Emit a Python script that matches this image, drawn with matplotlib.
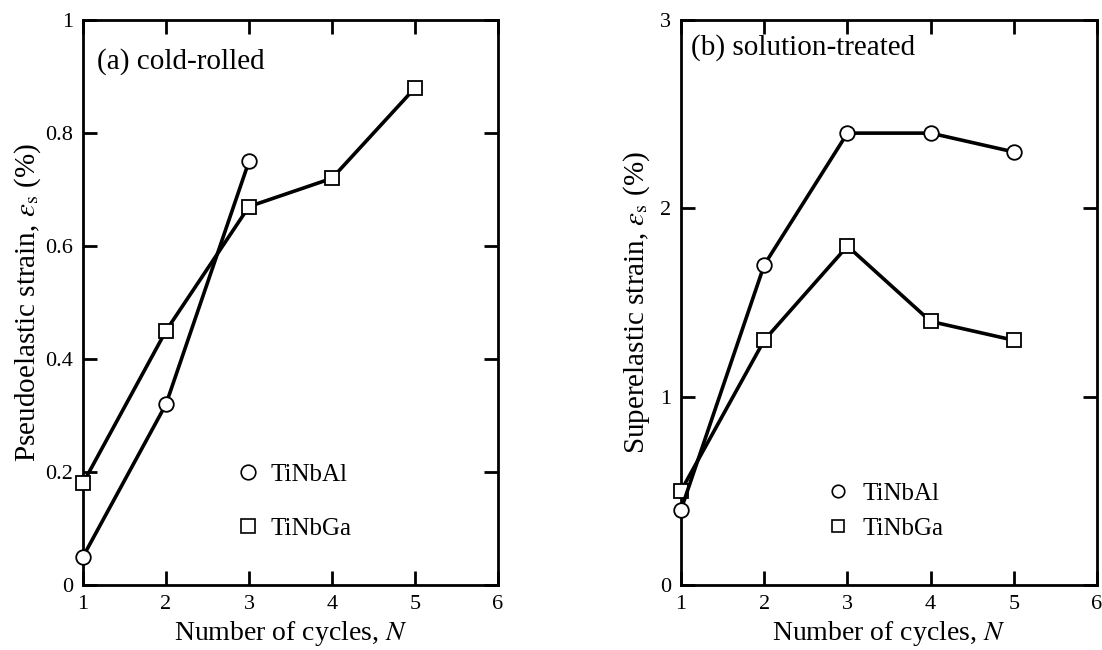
import matplotlib
matplotlib.use("Agg")
import matplotlib.pyplot as plt
from matplotlib.lines import Line2D

plt.rcParams["font.family"] = ["Liberation Serif", "DejaVu Serif"]
plt.rcParams["mathtext.fontset"] = "stix"

# (a) cold-rolled
cycles_al_a = [1, 2, 3]
strain_al_a = [0.05, 0.32, 0.75]
cycles_ga_a = [1, 2, 3, 4, 5]
strain_ga_a = [0.18, 0.45, 0.67, 0.72, 0.88]

# (b) solution-treated
cycles_al_b = [1, 2, 3, 4, 5]
strain_al_b = [0.4, 1.7, 2.4, 2.4, 2.3]
cycles_ga_b = [1, 2, 3, 4, 5]
strain_ga_b = [0.5, 1.3, 1.8, 1.4, 1.3]

x_ticks = [1, 2, 3, 4, 5, 6]
y_ticks_a = [0, 0.2, 0.4, 0.6, 0.8, 1]
y_tick_labels_a = ["0", "0.2", "0.4", "0.6", "0.8", "1"]
y_ticks_b = [0, 1, 2, 3]
labels = ["TiNbAl", "TiNbGa"]

fig = plt.figure(figsize=(11.02, 6.5), dpi=100)
ax1 = fig.add_axes([0.0753, 0.1, 0.3766, 0.869])
ax2 = fig.add_axes([0.618, 0.1, 0.3775, 0.869])

line_kw = dict(color="black", linewidth=2.6, markerfacecolor="white",
               markeredgecolor="black", markeredgewidth=1.3, markersize=10.5,
               clip_on=False)


def style(ax, yticks, ylabels, ylim):
    ax.set_xlim(1, 6)
    ax.set_ylim(*ylim)
    ax.set_xticks(x_ticks)
    ax.set_yticks(yticks)
    ax.set_yticklabels(ylabels)
    ax.tick_params(direction="in", length=10, width=2, labelsize=16,
                   top=True, right=True, pad=7)
    for s in ax.spines.values():
        s.set_linewidth(2)
    ax.set_xlabel("Number of cycles, $N$", fontsize=20, labelpad=4)


ax1.plot(cycles_ga_a, strain_ga_a, marker="s", zorder=3, **line_kw)
ax1.plot(cycles_al_a, strain_al_a, marker="o", zorder=4, **line_kw)
style(ax1, y_ticks_a, y_tick_labels_a, (0, 1))
ax1.set_ylabel(r"Pseudoelastic strain, $\varepsilon_{\rm s}$ (%)", fontsize=21, labelpad=2)
ax1.text(0.034, 0.927, "(a) cold-rolled", transform=ax1.transAxes, fontsize=21,
         va="center", ha="left")

ax2.plot(cycles_ga_b, strain_ga_b, marker="s", zorder=3, **line_kw)
ax2.plot(cycles_al_b, strain_al_b, marker="o", zorder=4, **line_kw)
style(ax2, y_ticks_b, [str(v) for v in y_ticks_b], (0, 3))
ax2.set_ylabel(r"Superelastic strain, $\varepsilon_{\rm s}$ (%)", fontsize=21, labelpad=6)
ax2.text(0.025, 0.952, "(b) solution-treated", transform=ax2.transAxes, fontsize=21,
         va="center", ha="left")


def handles(size):
    return [
        Line2D([], [], linestyle="none", marker="o", markersize=size,
               markerfacecolor="white", markeredgecolor="black", markeredgewidth=1.2),
        Line2D([], [], linestyle="none", marker="s", markersize=size,
               markerfacecolor="white", markeredgecolor="black", markeredgewidth=1.2),
    ]


ax1.legend(handles(10.5), labels, frameon=False, fontsize=18, loc="center left",
           bbox_to_anchor=(0.367, 0.148), borderpad=0, borderaxespad=0,
           handlelength=1.0, labelspacing=1.25, handletextpad=0.4)
ax2.legend(handles(9), labels, frameon=False, fontsize=18, loc="center left",
           bbox_to_anchor=(0.347, 0.131), borderpad=0, borderaxespad=0,
           handlelength=1.0, labelspacing=0.5, handletextpad=0.5)

fig.savefig("out.png", dpi=100)
